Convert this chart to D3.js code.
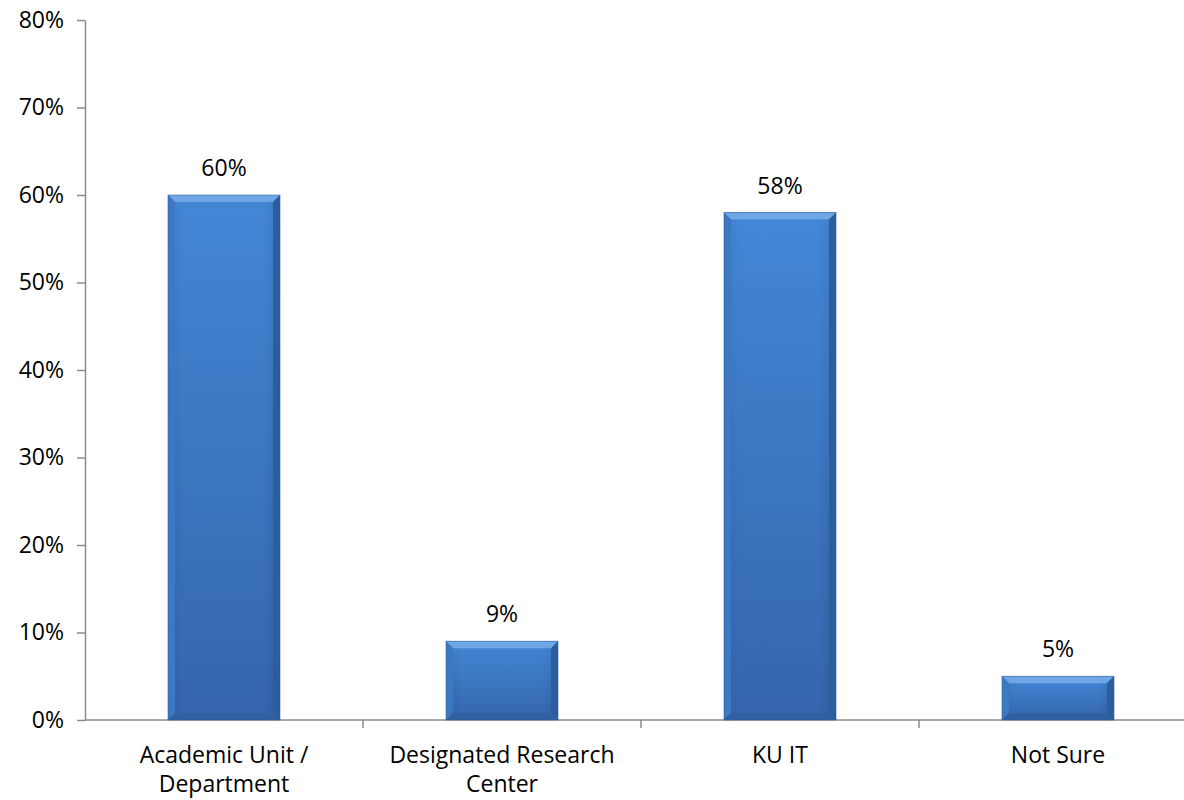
<!DOCTYPE html>
<html>
<head>
<meta charset="utf-8">
<script src="https://cdn.jsdelivr.net/npm/d3@7"></script>
<style>
  html, body { margin: 0; padding: 0; background: #fff; }
  svg { display: block; font-family: "Open Sans", sans-serif; }
</style>
</head>
<body>
<svg id="chart" width="1184" height="800"></svg>
<script>
// Survey responses: where research computing support comes from
const categories = [["Academic Unit /", "Department"], ["Designated Research", "Center"], ["KU IT"], ["Not Sure"]];
const values = [60, 9, 58, 5];
const yTicks = [0, 10, 20, 30, 40, 50, 60, 70, 80];

const FONT = "'Open Sans', sans-serif";
const FS = 23;

const svg = d3.select("#chart");
const margin = { left: 85, top: 20, bottom: 720 };
const step = 278;

const keys = categories.map(c => c.join(" "));
const x = d3.scaleBand()
  .domain(keys)
  .range([margin.left, margin.left + step * keys.length])
  .paddingInner(0.597)
  .paddingOuter(0.2985);

const y = d3.scaleLinear().domain([0, 80]).range([margin.bottom, margin.top]);

const defs = svg.append("defs");
const face = defs.append("linearGradient").attr("id", "face").attr("x1", 0).attr("y1", 0).attr("x2", 0).attr("y2", 1);
face.append("stop").attr("offset", "0%").attr("stop-color", "#4287d6");
face.append("stop").attr("offset", "100%").attr("stop-color", "#3565ad");
const faceH = defs.append("linearGradient").attr("id", "faceH").attr("x1", 0).attr("y1", 0).attr("x2", 1).attr("y2", 0);
faceH.append("stop").attr("offset", "0%").attr("stop-color", "#000").attr("stop-opacity", 0.06);
faceH.append("stop").attr("offset", "15%").attr("stop-color", "#000").attr("stop-opacity", 0);
faceH.append("stop").attr("offset", "85%").attr("stop-color", "#000").attr("stop-opacity", 0);
faceH.append("stop").attr("offset", "100%").attr("stop-color", "#000").attr("stop-opacity", 0.1);

// Y axis
const yAxis = d3.axisLeft(y).tickValues(yTicks).tickFormat(d => d + "%").tickSize(8).tickSizeOuter(0);
const gy = svg.append("g").attr("transform", `translate(${margin.left},0)`).call(yAxis);
gy.select(".domain").attr("stroke", "#8c8c8c").attr("stroke-width", 1.5);
gy.selectAll(".tick line").attr("stroke", "#8c8c8c").attr("stroke-width", 1.5);
gy.selectAll(".tick text").attr("font-size", FS).attr("fill", "#000").attr("x", -21)
  .attr("font-family", FONT);

// X axis baseline and category separators
const gx = svg.append("g");
gx.append("line")
  .attr("x1", margin.left).attr("x2", 1184)
  .attr("y1", y(0)).attr("y2", y(0))
  .attr("stroke", "#8c8c8c").attr("stroke-width", 1.5);
const seps = d3.range(1, keys.length + 1).map(i => margin.left + step * i);
gx.selectAll("line.sep").data(seps).join("line")
  .attr("class", "sep")
  .attr("x1", d => d).attr("x2", d => d)
  .attr("y1", y(0)).attr("y2", y(0) + 8)
  .attr("stroke", "#8c8c8c").attr("stroke-width", 1.5);

// Bars with bevelled edges
const bev = 7;
const bars = svg.append("g").selectAll("g.bar").data(keys.map((k, i) => ({ k, v: values[i] }))).join("g").attr("class", "bar");
bars.each(function (d) {
  const g = d3.select(this);
  const x0 = x(d.k), x1 = x0 + x.bandwidth();
  const y0 = y(d.v), y1 = y(0);
  const b = Math.min(bev, (y1 - y0) / 2.5);
  g.append("rect").attr("x", x0).attr("y", y0).attr("width", x1 - x0).attr("height", y1 - y0).attr("fill", "url(#face)");
  g.append("rect").attr("x", x0).attr("y", y0).attr("width", x1 - x0).attr("height", y1 - y0).attr("fill", "url(#faceH)");
  // top bevel
  g.append("path").attr("d", `M${x0},${y0}L${x1},${y0}L${x1 - b},${y0 + b}L${x0 + b},${y0 + b}Z`).attr("fill", "#6ea6e6");
  // left bevel
  g.append("path").attr("d", `M${x0},${y0}L${x0 + b},${y0 + b}L${x0 + b},${y1 - b}L${x0},${y1}Z`).attr("fill", "#3d78c2");
  // right bevel
  g.append("path").attr("d", `M${x1},${y0}L${x1 - b},${y0 + b}L${x1 - b},${y1 - b}L${x1},${y1}Z`).attr("fill", "#2c5d9c");
  // bottom bevel
  g.append("path").attr("d", `M${x0},${y1}L${x1},${y1}L${x1 - b},${y1 - b}L${x0 + b},${y1 - b}Z`).attr("fill", "#30609f");
  g.append("rect").attr("x", x0).attr("y", y0).attr("width", x1 - x0).attr("height", y1 - y0)
    .attr("fill", "none").attr("stroke", "#2b5a96").attr("stroke-opacity", 0.5).attr("stroke-width", 1);
  // value label
  g.append("text")
    .attr("x", (x0 + x1) / 2).attr("y", y0 - 19)
    .attr("text-anchor", "middle").attr("font-size", FS).attr("fill", "#000")
    .text(d.v + "%");
});

// Category labels
const labels = svg.append("g").selectAll("text.cat").data(categories).join("text")
  .attr("class", "cat")
  .attr("text-anchor", "middle")
  .attr("font-size", FS).attr("fill", "#000")
  .attr("x", (d, i) => x(keys[i]) + x.bandwidth() / 2)
  .attr("y", y(0) + 43);
labels.selectAll("tspan").data(d => d).join("tspan")
  .attr("x", function () { return d3.select(this.parentNode).attr("x"); })
  .attr("dy", (d, i) => i === 0 ? 0 : 29)
  .text(d => d);
</script>
</body>
</html>
